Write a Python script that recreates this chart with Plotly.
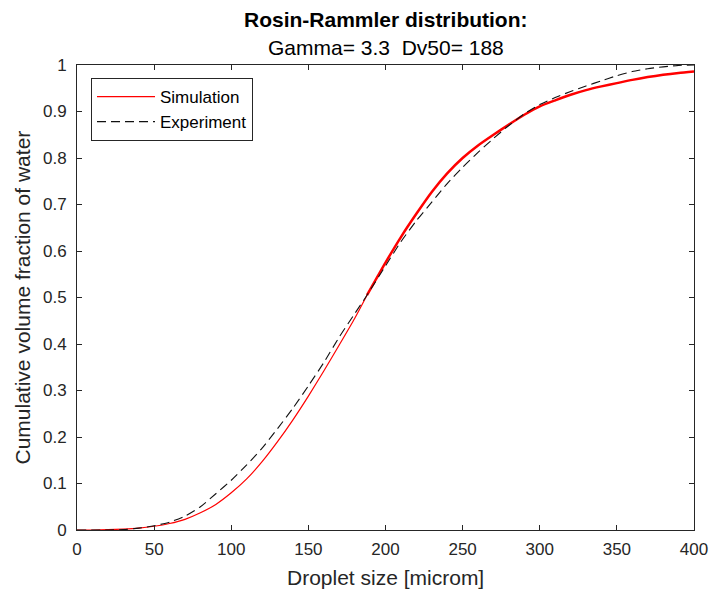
import plotly.graph_objects as go

# Simulation (red)
sim_x = [0, 10, 20, 30, 40, 50, 60, 70, 80, 90, 100, 110, 120, 130, 140, 150, 160, 170, 180, 188,
         200, 210, 220, 230, 240, 250, 260, 270, 280, 290, 300, 310, 320, 330, 340, 350, 360, 370, 380, 390, 400]
sim_y = [0, 0.0, 0.001, 0.002, 0.004, 0.008, 0.014, 0.023, 0.037, 0.055, 0.08, 0.11, 0.147, 0.19, 0.237,
         0.288, 0.342, 0.398, 0.455, 0.505, 0.575, 0.63, 0.68, 0.727, 0.767, 0.800, 0.827, 0.850, 0.872,
         0.893, 0.911, 0.924, 0.936, 0.946, 0.954, 0.961, 0.968, 0.974, 0.979, 0.983, 0.986]

# Experiment (dashed black)
exp_x = [0, 20, 30, 40, 50, 60, 70, 80, 90, 100, 110, 120, 130, 140, 150, 160, 170, 180, 188,
         200, 210, 220, 230, 240, 250, 260, 270, 280, 290, 300, 310, 320, 330, 340, 350, 360, 370, 380, 390, 400]
exp_y = [0, 0, 0.001, 0.004, 0.009, 0.017, 0.03, 0.05, 0.078, 0.107, 0.14, 0.176, 0.218, 0.262, 0.31,
         0.36, 0.415, 0.465, 0.505, 0.568, 0.62, 0.665, 0.705, 0.745, 0.78, 0.812, 0.842, 0.87, 0.895,
         0.915, 0.93, 0.943, 0.955, 0.966, 0.977, 0.986, 0.992, 0.996, 0.999, 1.0]

x_ticks = [0, 50, 100, 150, 200, 250, 300, 350, 400]
y_ticks = [0, 0.1, 0.2, 0.3, 0.4, 0.5, 0.6, 0.7, 0.8, 0.9, 1]
y_tick_labels = ["0", "0.1", "0.2", "0.3", "0.4", "0.5", "0.6", "0.7", "0.8", "0.9", "1"]

title_main = "Rosin-Rammler distribution:"
title_sub = "Gamma= 3.3  Dv50= 188"
x_title = "Droplet size [microm]"
y_title = "Cumulative volume fraction of water"

split = sim_x.index(188)

FONT = "Liberation Sans, Arial, Helvetica, sans-serif"
AX = "#262626"

fig = go.Figure()
fig.add_trace(go.Scatter(x=sim_x[:split + 1], y=sim_y[:split + 1], mode="lines", name="Simulation",
                         line=dict(color="#ff0000", width=1.2, shape="spline", smoothing=0.6),
                         legendgroup="sim"))
fig.add_trace(go.Scatter(x=sim_x[split:], y=sim_y[split:], mode="lines", name="Simulation",
                         line=dict(color="#ff0000", width=2.5, shape="spline", smoothing=0.6),
                         legendgroup="sim", showlegend=False))
fig.add_trace(go.Scatter(x=exp_x, y=exp_y, mode="lines", name="Experiment",
                         line=dict(color="#111111", width=1.1, dash="9px,5px", shape="spline", smoothing=0.6)))

axis_common = dict(showline=True, linecolor=AX, linewidth=1, mirror="ticks", ticks="inside",
                   ticklen=5, tickcolor=AX, showgrid=False, zeroline=False, automargin=False,
                   tickfont=dict(family=FONT, size=17, color=AX))

fig.update_xaxes(range=[0, 400], tickvals=x_ticks, ticktext=[str(v) for v in x_ticks],
                 ticklabelstandoff=4, **axis_common)
fig.update_yaxes(range=[0, 1], tickvals=y_ticks, ticktext=y_tick_labels,
                 ticklabelstandoff=6, **axis_common)

fig.update_layout(
    width=712, height=590,
    margin=dict(l=77, r=18, t=65, b=60),
    plot_bgcolor="white", paper_bgcolor="white",
    font=dict(family=FONT, color=AX),
    legend=dict(x=0.0227, y=0.972, xanchor="left", yanchor="top",
                bgcolor="white", bordercolor=AX, borderwidth=1, itemwidth=58,
                font=dict(family=FONT, size=17, color="#000000"), tracegroupgap=0),
    annotations=[
        dict(text="<b>" + title_main + "</b>", xref="paper", yref="paper", x=0.5, y=1, yshift=46,
             xanchor="center", yanchor="middle", showarrow=False,
             font=dict(family=FONT, size=21, color="#000000")),
        dict(text=title_sub, xref="paper", yref="paper", x=0.5, y=1, yshift=18,
             xanchor="center", yanchor="middle", showarrow=False,
             font=dict(family=FONT, size=21, color="#000000")),
        dict(text=x_title, xref="paper", yref="paper", x=0.5, y=0, yshift=-47,
             xanchor="center", yanchor="middle", showarrow=False,
             font=dict(family=FONT, size=21, color=AX)),
        dict(text=y_title, xref="paper", yref="paper", x=0, y=0.5, xshift=-55,
             xanchor="center", yanchor="middle", showarrow=False, textangle=-90,
             font=dict(family=FONT, size=21, color=AX)),
    ],
)

fig.write_html("out.html", config={"displayModeBar": False},
               post_script="document.body.style.margin='0';")
